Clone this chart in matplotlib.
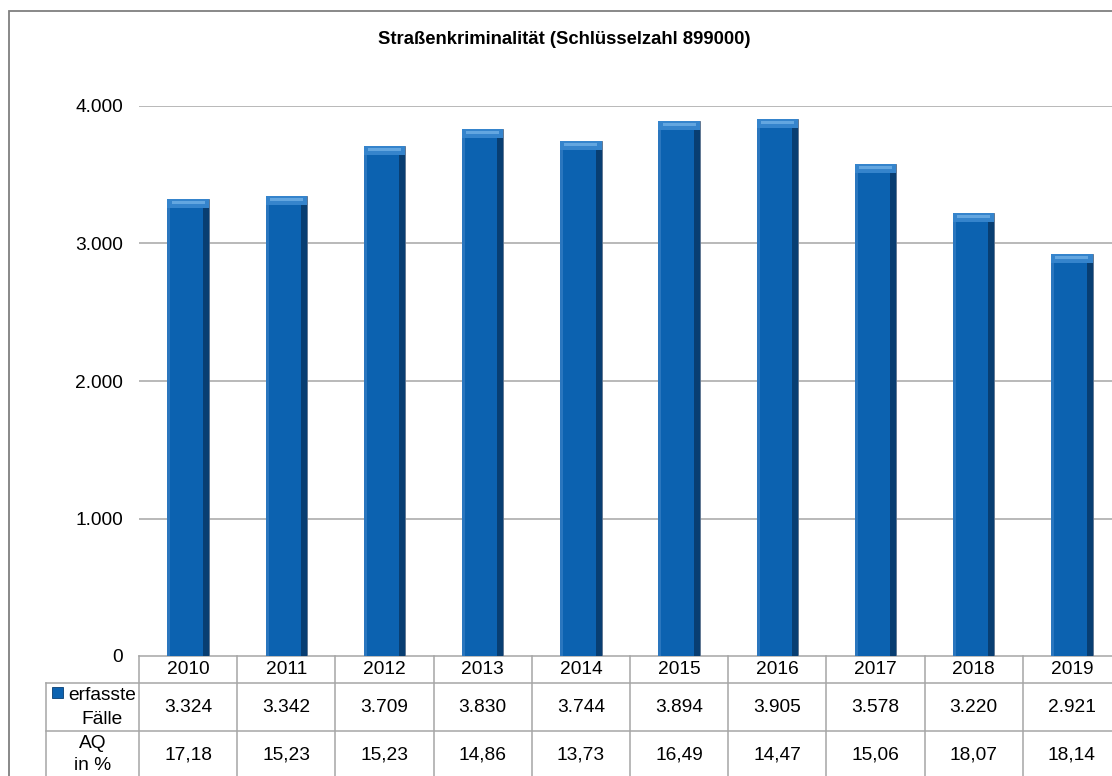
import matplotlib
matplotlib.use('Agg')
import matplotlib.pyplot as plt
import matplotlib.transforms as mtransforms
from matplotlib.patches import Rectangle

plt.rcParams['font.family'] = ['Liberation Sans', 'DejaVu Sans']

TITLE = 'Straßenkriminalität (Schlüsselzahl 899000)'
years = ['2010', '2011', '2012', '2013', '2014', '2015', '2016', '2017', '2018', '2019']
cases = [3324, 3342, 3709, 3830, 3744, 3894, 3905, 3578, 3220, 2921]
aq = [17.18, 15.23, 15.23, 14.86, 13.73, 16.49, 14.47, 15.06, 18.07, 18.14]
yticks = [0, 1000, 2000, 3000, 4000]

W, H = 1112, 776
BAR_MAIN = '#0C62B0'
BAR_TOP = '#3584CC'
BAR_SHINE = '#63A6E0'
BAR_SIDE = '#083E72'
BAR_LEFT = '#2A76BE'
GRID = '#A6A6A6'
TABLE = '#A6A6A6'
FS = 13.8


def de_int(v):
    return f'{v:,}'.replace(',', '.')


def de_dec(v):
    return f'{v:.2f}'.replace('.', ',')


def main():
    fig = plt.figure(figsize=(W / 100, H / 100), dpi=100)

    # outer chart border (runs off the right/bottom edge like the original)
    fig.patches.append(Rectangle((9 / W, -0.2), 1.2, 1 - 11 / H + 0.2,
                                 transform=fig.transFigure, fill=False,
                                 edgecolor='#7F7F7F', linewidth=1.3))

    ax_l, ax_r, ax_t, ax_b = 139, 1121, 106, 656
    ax = fig.add_axes([ax_l / W, 1 - ax_b / H, (ax_r - ax_l) / W, (ax_b - ax_t) / H])
    ax.set_xlim(-0.5, len(years) - 0.5)
    ax.set_ylim(0, 4000)

    x = list(range(len(years)))
    px_per_unit = (ax_b - ax_t) / 4000
    bevel = 9 / px_per_unit
    shine = 3 / px_per_unit
    bw = 0.42
    side = 0.06
    left = 0.03
    ax.bar(x, cases, width=bw, color=BAR_MAIN, edgecolor='#5D7089', linewidth=0.6, zorder=3)
    ax.bar([i + bw / 2 - side / 2 for i in x], cases, width=side, color=BAR_SIDE,
           linewidth=0, zorder=4)
    ax.bar([i - bw / 2 + left / 2 for i in x], cases, width=left, color=BAR_LEFT,
           linewidth=0, zorder=4)
    ax.bar(x, [bevel] * len(x), bottom=[c - bevel for c in cases], width=bw,
           color=BAR_TOP, linewidth=0, zorder=5)
    ax.bar(x, [shine] * len(x), bottom=[c - bevel * 0.55 for c in cases], width=bw * 0.8,
           color=BAR_SHINE, linewidth=0, zorder=6)

    ax.set_yticks(yticks)
    ax.set_yticklabels([de_int(v) for v in yticks])
    ax.tick_params(axis='y', length=0, pad=11.5, labelsize=FS)
    ax.set_xticks([])
    for s in ax.spines.values():
        s.set_visible(False)
    for v in yticks[1:]:
        ax.axhline(v, color=GRID, linewidth=1.1, zorder=1)

    # data table below the axis
    trans = mtransforms.blended_transform_factory(ax.transData, ax.transAxes)
    ah = ax_b - ax_t

    def fy(py):
        return (ax_b - py) / ah

    row_year = (656, 683)
    row_cases = (683, 731)
    row_aq = (731, 779)
    bottom = 800
    head_left = -0.5 - (ax_l - 46) / (ax_r - ax_l) * len(years)
    kw = dict(transform=trans, clip_on=False, color=TABLE, linewidth=1.1)

    ax.plot([-0.5, len(years) - 0.5], [fy(row_year[0])] * 2, **kw)
    ax.plot([head_left, len(years) - 0.5], [fy(row_cases[0])] * 2, **kw)
    ax.plot([head_left, len(years) - 0.5], [fy(row_aq[0])] * 2, **kw)
    for i in range(len(years) + 1):
        ax.plot([i - 0.5] * 2, [fy(row_year[0]), fy(bottom)], **kw)
    ax.plot([head_left] * 2, [fy(row_cases[0]), fy(bottom)], **kw)

    tkw = dict(transform=trans, ha='center', va='center', fontsize=FS, clip_on=False)
    for i, yr in enumerate(years):
        ax.text(i, fy(sum(row_year) / 2), yr, **tkw)
        ax.text(i, fy(sum(row_cases) / 2), de_int(cases[i]), **tkw)
        ax.text(i, fy(sum(row_aq) / 2), de_dec(aq[i]), **tkw)

    head_c = (head_left - 0.5) / 2
    ax.text(head_c + 0.1, fy(695), 'erfasste', **tkw)
    ax.text(head_c + 0.1, fy(719), 'Fälle', **tkw)
    ax.text(head_c, fy(743), 'AQ', **tkw)
    ax.text(head_c, fy(766), 'in %', **tkw)
    key_w = 11 / (ax_r - ax_l) * len(years)
    ax.add_patch(Rectangle((head_left + 0.06, fy(698)), key_w, 11 / ah,
                           transform=trans, clip_on=False, facecolor=BAR_MAIN,
                           edgecolor=BAR_SIDE, linewidth=0.6))

    fig.text(564 / W, 1 - 39 / H, TITLE, ha='center', va='center',
             fontsize=13.3, fontweight='bold')

    fig.savefig('out.png', dpi=100)
    plt.close(fig)


if __name__ == '__main__':
    main()
